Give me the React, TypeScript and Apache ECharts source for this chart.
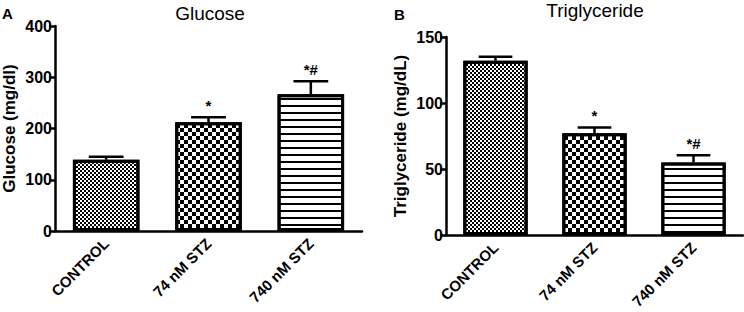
import React, { useEffect, useRef } from "react";
import * as echarts from "echarts";

const categories = ["CONTROL", "74 nM STZ", "740 nM STZ"];
const glucoseMean = [139, 212, 267];
const glucoseErr = [6, 10, 25];
const trigMean = [132, 77, 55];
const trigErr = [3, 4.5, 5.5];
const sigLabels = ["", "*", "*#"];
const glucoseTicks = { min: 0, max: 400, interval: 100 };
const trigTicks = { min: 0, max: 150, interval: 50 };

const FONT = "'Liberation Sans', Arial, Helvetica, sans-serif";

const decals = [
  { symbol: "rect", symbolSize: 1, color: "#000", dashArrayX: [[2, 2], [0, 2, 2, 0]], dashArrayY: [2, 0] },
  { symbol: "rect", symbolSize: 1, color: "#000", dashArrayX: [[4, 4], [0, 4, 4, 0]], dashArrayY: [4, 0] },
  { symbol: "rect", symbolSize: 1, color: "#000", dashArrayX: [1, 0], dashArrayY: [1.4, 4.1] },
];

function errorSeries(means: number[], errs: number[], xi: number) {
  return {
    type: "custom",
    xAxisIndex: xi,
    yAxisIndex: xi,
    z: 5,
    silent: true,
    data: means.map((m, i) => [i, m, m + errs[i]]),
    renderItem: (params: any, api: any) => {
      const idx = api.value(0);
      const base = api.coord([idx, api.value(1)]);
      const top = api.coord([idx, api.value(2)]);
      const half = api.size([1, 0])[0] * 0.17;
      const sig = sigLabels[params.dataIndex];
      return {
        type: "group",
        children: [
          { type: "line", shape: { x1: base[0], y1: base[1], x2: top[0], y2: top[1] }, style: { stroke: "#000", lineWidth: 2.5 } },
          { type: "line", shape: { x1: top[0] - half, y1: top[1], x2: top[0] + half, y2: top[1] }, style: { stroke: "#000", lineWidth: 2.5 } },
          {
            type: "text",
            x: top[0],
            y: top[1] - 4,
            style: { text: sig, align: "center", verticalAlign: "bottom", fill: "#000", font: `bold 15px ${FONT}` },
          },
        ],
      };
    },
  };
}

function barSeries(means: number[], xi: number) {
  return {
    type: "bar",
    xAxisIndex: xi,
    yAxisIndex: xi,
    barWidth: "65%",
    z: 2,
    data: means.map((v, i) => ({
      value: v,
      itemStyle: { color: "#fff", borderColor: "#000", borderWidth: 3, decal: decals[i] },
    })),
  };
}

function xAxis(gi: number) {
  return {
    type: "category",
    gridIndex: gi,
    data: categories,
    axisLine: { lineStyle: { color: "#000", width: 2.5 } },
    axisTick: { alignWithLabel: true, length: 6, lineStyle: { color: "#000", width: 2.5 } },
    axisLabel: { rotate: 45, margin: 10, color: "#000", fontWeight: "bold", fontSize: 15, fontFamily: FONT },
  };
}

function yAxis(gi: number, ticks: any, name: string) {
  return {
    type: "value",
    gridIndex: gi,
    min: ticks.min,
    max: ticks.max,
    interval: ticks.interval,
    name,
    nameLocation: "middle",
    nameGap: 37,
    nameTextStyle: { color: "#000", fontWeight: "bold", fontSize: 17, fontFamily: FONT },
    axisLine: { show: true, lineStyle: { color: "#000", width: 2.5 } },
    axisTick: { show: true, length: 6, lineStyle: { color: "#000", width: 2.5 } },
    axisLabel: { margin: 3, color: "#000", fontWeight: "bold", fontSize: 16, fontFamily: FONT },
    splitLine: { show: false },
  };
}

export default function App() {
  const ref = useRef<HTMLDivElement>(null);
  useEffect(() => {
    document.body.style.margin = "0";
    const chart = echarts.init(ref.current!, null, { renderer: "svg" });
    chart.setOption({
      animation: false,
      backgroundColor: "#fff",
      grid: [
        { left: 55, top: 26, width: 307, height: 205, containLabel: false, outerBoundsMode: "none" },
        { left: 446, top: 37, width: 297, height: 198, containLabel: false, outerBoundsMode: "none" },
      ],
      xAxis: [xAxis(0), xAxis(1)],
      yAxis: [yAxis(0, glucoseTicks, "Glucose (mg/dl)"), yAxis(1, trigTicks, "Triglyceride (mg/dL)")],
      series: [barSeries(glucoseMean, 0), errorSeries(glucoseMean, glucoseErr, 0), barSeries(trigMean, 1), errorSeries(trigMean, trigErr, 1)],
      graphic: [
        { type: "text", x: 210, y: 13, style: { text: "Glucose", align: "center", verticalAlign: "middle", fill: "#000", font: `19px ${FONT}` } },
        { type: "text", x: 595, y: 10, style: { text: "Triglyceride", align: "center", verticalAlign: "middle", fill: "#000", font: `19px ${FONT}` } },
        { type: "text", x: 2, y: 13, style: { text: "A", align: "left", verticalAlign: "middle", fill: "#000", font: `bold 15px ${FONT}` } },
        { type: "text", x: 394, y: 14, style: { text: "B", align: "left", verticalAlign: "middle", fill: "#000", font: `bold 15px ${FONT}` } },
      ],
    });
    return () => chart.dispose();
  }, []);
  return <div ref={ref} style={{ width: 744, height: 312 }} />;
}
